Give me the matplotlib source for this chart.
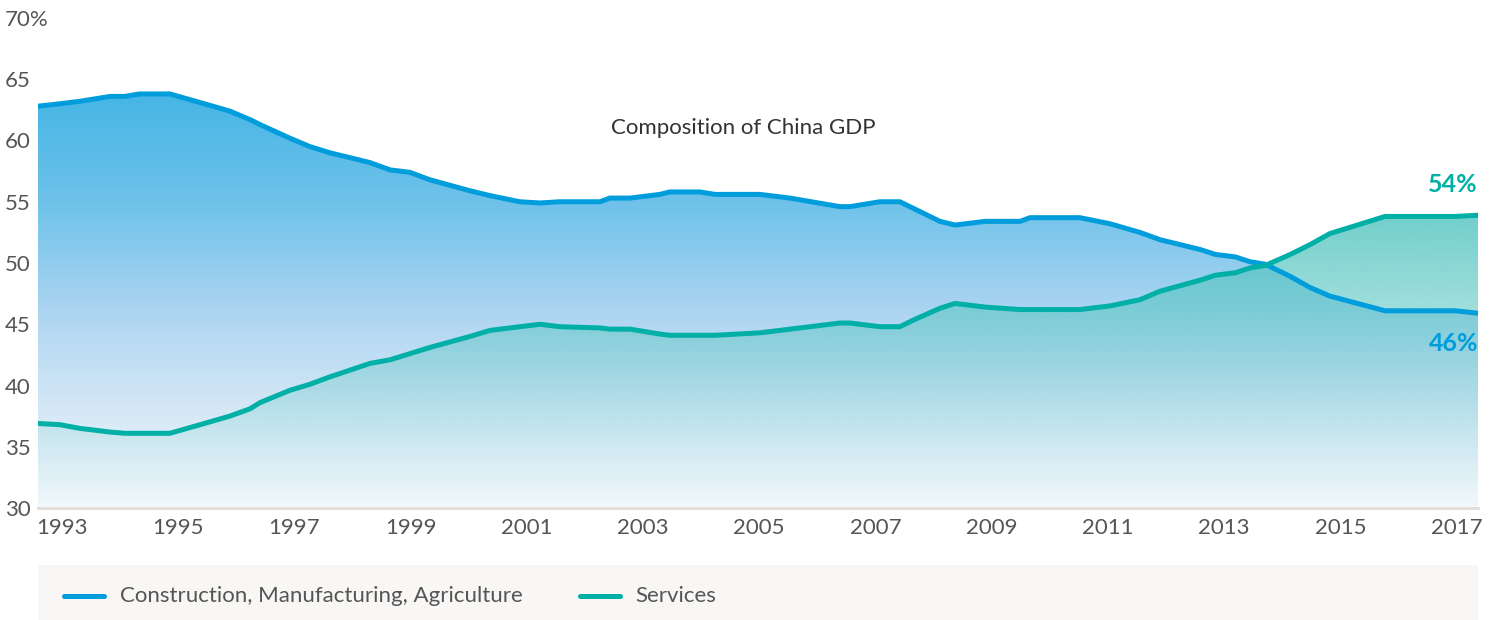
import numpy as np
import matplotlib.pyplot as plt
from matplotlib.patches import Polygon, Rectangle
from matplotlib.lines import Line2D
from matplotlib.colors import to_rgb

plt.rcParams['font.family'] = ['Lato', 'DejaVu Sans']

# datos (porcentaje del PIB)
anios = [1992.59, 1992.97, 1993.31, 1993.83, 1994.08, 1994.34, 1994.86, 1995.38,
         1995.89, 1996.24, 1996.41, 1996.92, 1997.27, 1997.61, 1998.30, 1998.65,
         1998.99, 1999.33, 2000.02, 2000.37, 2000.88, 2001.23, 2001.57, 2002.26,
         2002.43, 2002.78, 2003.29, 2003.46, 2003.98, 2004.24, 2005.01, 2005.53,
         2006.39, 2006.56, 2007.08, 2007.42, 2007.68, 2008.11, 2008.37, 2008.89,
         2009.49, 2009.66, 2010.52, 2011.04, 2011.55, 2011.90, 2012.59, 2012.85,
         2013.19, 2013.45, 2013.71, 2014.14, 2014.48, 2014.82, 2015.77, 2016.98,
         2017.37]
industria = [62.8, 63.0, 63.2, 63.6, 63.6, 63.8, 63.8, 63.1,
             62.4, 61.7, 61.3, 60.2, 59.5, 59.0, 58.2, 57.6,
             57.4, 56.8, 55.9, 55.5, 55.0, 54.9, 55.0, 55.0,
             55.3, 55.3, 55.6, 55.8, 55.8, 55.6, 55.6, 55.3,
             54.6, 54.6, 55.0, 55.0, 54.4, 53.4, 53.1, 53.4,
             53.4, 53.7, 53.7, 53.2, 52.5, 51.9, 51.1, 50.7,
             50.5, 50.1, 49.9, 48.9, 48.0, 47.3, 46.1, 46.1,
             45.9]
servicios = [36.9, 36.8, 36.5, 36.2, 36.1, 36.1, 36.1, 36.8,
             37.5, 38.1, 38.6, 39.6, 40.1, 40.7, 41.8, 42.1,
             42.6, 43.1, 44.0, 44.5, 44.8, 45.0, 44.8, 44.7,
             44.6, 44.6, 44.2, 44.1, 44.1, 44.1, 44.3, 44.6,
             45.1, 45.1, 44.8, 44.8, 45.4, 46.3, 46.7, 46.4,
             46.2, 46.2, 46.2, 46.5, 47.0, 47.7, 48.6, 49.0,
             49.2, 49.6, 49.8, 50.7, 51.5, 52.4, 53.8, 53.8,
             53.9]
ticks_x = list(range(1993, 2018, 2))
ticks_y = [30, 35, 40, 45, 50, 55, 60, 65, 70]
etiquetas_y = ['30', '35', '40', '45', '50', '55', '60', '65', '70%']

AZUL = '#009ddc'
VERDE = '#00afa6'
GRIS = '#555555'
TAM = 16

fig = plt.figure(figsize=(14.94, 6.2), dpi=100)
ax = fig.add_axes([38 / 1494, 112 / 620, 1440 / 1494, 490 / 620])
x0, x1 = anios[0], anios[-1]
ax.set_xlim(x0, x1)
ax.set_ylim(30, 70)

# gradiente vertical recortado por el area de cada serie
def gradiente(stops_y, stops_c, stops_a):
    ys = np.linspace(30, 70, 400)
    img = np.zeros((400, 2, 4))
    for k in range(3):
        col = np.interp(ys, stops_y, [c[k] for c in stops_c])
        img[:, :, k] = col[:, None]
    img[:, :, 3] = np.interp(ys, stops_y, stops_a)[:, None]
    return img

def area(vals, img, z):
    verts = [(x0, 30)] + list(zip(anios, vals)) + [(x1, 30)]
    poly = Polygon(verts, closed=True, facecolor='none', edgecolor='none')
    ax.add_patch(poly)
    im = ax.imshow(img, extent=[x0, x1, 30, 70], origin='lower',
                   aspect='auto', zorder=z, interpolation='bilinear')
    im.set_clip_path(poly)

azules = [to_rgb(c) for c in ['#f6fafd', '#d5e8f6', '#b3d7f2', '#6ec2ea', '#45b5e5', '#45b5e5']]
area(industria, gradiente([30, 38, 45, 55, 64, 70], azules, [1, 1, 1, 1, 1, 1]), 1)
verde = to_rgb('#58c6c2')
area(servicios, gradiente([30, 35, 40, 47, 54, 70], [verde] * 6,
                          [0.02, 0.12, 0.3, 0.6, 0.85, 0.85]), 2)

ax.plot(anios, industria, color=AZUL, lw=3.6, zorder=4, solid_capstyle='round')
ax.plot(anios, servicios, color=VERDE, lw=3.6, zorder=4, solid_capstyle='round')

for s in ['top', 'right', 'left']:
    ax.spines[s].set_visible(False)
ax.spines['bottom'].set_color('#e2dfda')
ax.spines['bottom'].set_linewidth(2.2)
ax.spines['bottom'].set_zorder(5)

ax.set_xticks(ticks_x)
ax.set_xticklabels([str(a) for a in ticks_x])
ax.set_yticks(ticks_y)
ax.set_yticklabels(etiquetas_y)
ax.tick_params(axis='x', length=0, pad=7, labelsize=TAM, labelcolor=GRIS)
ax.tick_params(axis='y', length=0, pad=24, labelsize=TAM, labelcolor=GRIS)
for lab in ax.get_yticklabels():
    lab.set_ha('left')

ax.text(x1, 56.4, '54%', color=VERDE, fontsize=18, fontweight='bold',
        ha='right', va='center', zorder=6)
ax.text(x1, 43.4, '46%', color=AZUL, fontsize=18, fontweight='bold',
        ha='right', va='center', zorder=6)

fig.text(743 / 1494, 1 - 128 / 620, 'Composition of China GDP', color='#333333',
         fontsize=TAM, ha='center', va='center')

# leyenda
fig.add_artist(Rectangle((38 / 1494, 0), 1440 / 1494, 55 / 620,
                         transform=fig.transFigure, facecolor='#f8f7f5',
                         edgecolor='none'))
yl = 1 - 596 / 620
fig.add_artist(Line2D([64 / 1494, 104 / 1494], [yl, yl], color=AZUL, lw=3.6,
                      solid_capstyle='round', transform=fig.transFigure))
fig.text(120 / 1494, yl, 'Construction, Manufacturing, Agriculture', color=GRIS,
         fontsize=TAM, va='center', ha='left')
fig.add_artist(Line2D([580 / 1494, 620 / 1494], [yl, yl], color=VERDE, lw=3.6,
                      solid_capstyle='round', transform=fig.transFigure))
fig.text(635 / 1494, yl, 'Services', color=GRIS, fontsize=TAM,
         va='center', ha='left')

fig.savefig('out.png', dpi=100)
